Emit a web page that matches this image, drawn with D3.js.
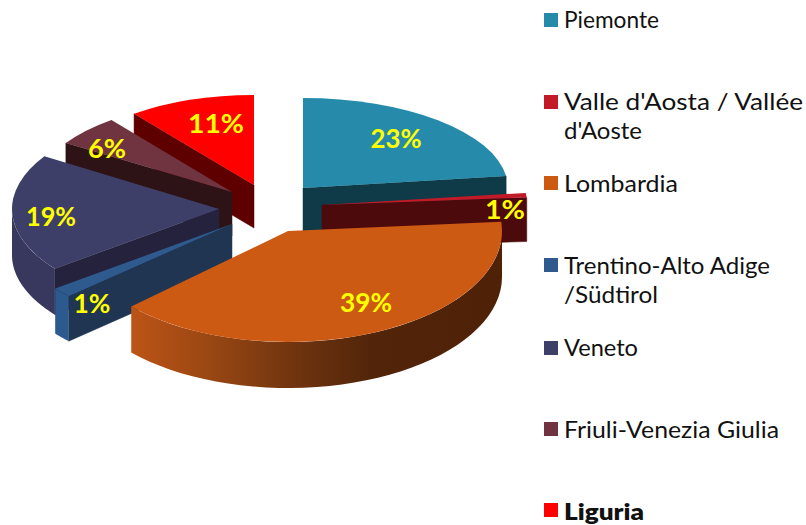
<!DOCTYPE html>
<html><head><meta charset="utf-8">
<script src="https://cdn.jsdelivr.net/npm/d3@7/dist/d3.min.js"></script>
<style>html,body{margin:0;padding:0;background:#fff}svg{display:block}</style>
</head><body><svg id="c" width="806" height="525"></svg>
<script>
// data
const categories = ["Piemonte","Valle d'Aosta / Vallée d'Aoste","Lombardia","Trentino-Alto Adige /Südtirol","Veneto","Friuli-Venezia Giulia","Liguria"];
const shares = [22.9,0.8,39.49,1.49,19.49,5.5,10.5];
const legendLines = [["Piemonte"],["Valle d'Aosta / Vallée","d'Aoste"],["Lombardia"],["Trentino-Alto Adige","/Südtirol"],["Veneto"],["Friuli-Venezia Giulia"],["Liguria"]];

// styles
const topColors  = ["#268bab","#c21b27","#cd5a13","#2f5a8d","#3e3f68","#6f3440","#ff0000"];
const wallColors = ["#0f3a47","#4d0a0c","#50230a","#1f3552","#24223c","#2e1316","#5f0000"];
const rimColors  = ["#0f3a47","#4d0a0c","url(#lomb)","#2c5a8e","#38385e","#2e1316","#5f0000"];

// layout: exploded slice apex and projected radii, in slice order
const apexX = [303,322,288,232,219,232,254];
const apexY = [188,205,231,224,209,192,185];
const radiusX = [205,205.5,214,223,207,197,196];
const radiusY = [90,90,111,106,98,91,90];
const depths = [44,44,46,45,46,44,43];
const paintOrder = [0,1,6,5,4,3,2];
const labelX = [396,505,366,92,51,107,216];
const labelY = [139,210,303,304,217,149,124];
const labelWidth = [51,40,52,37,50,38,56];
const legendMarkY = [13,95,176,258,341,422,503];
const legendTextY = [28,110,192,274,356,438,520];
const legendWidths = [[95],[239,78],[114],[206,94],[74],[215],[80]];

const svg = d3.select("#c");
const defs = svg.append("defs");
const grad = defs.append("linearGradient").attr("id","lomb").attr("gradientUnits","userSpaceOnUse")
  .attr("x1",130).attr("x2",500).attr("y1",0).attr("y2",0);
[[0,"#bd5416"],[0.2,"#9c4813"],[0.45,"#6f340f"],[0.65,"#52250a"],[1,"#4f2208"]]
  .forEach(([o,c])=>grad.append("stop").attr("offset",o).attr("stop-color",c));

const slices = d3.pie().sort(null).value(d=>d)(shares);
const arc = d3.arc().innerRadius(0);
const line = d3.line();
const pt = (i,a,dz=0)=>[apexX[i]+radiusX[i]*Math.sin(a), apexY[i]-radiusY[i]*Math.cos(a)+dz];

const gPie = svg.append("g");
paintOrder.forEach(i=>{
  const s = slices[i], g = gPie.append("g"), depth = depths[i];
  // radial walls that face the viewer
  [s.startAngle,s.endAngle].forEach((a,k)=>{
    const sin = Math.sin(a);
    if ((k===0 && sin<-1e-6) || (k===1 && sin>1e-6)) {
      const p = pt(i,a), q = pt(i,a,depth);
      g.append("path").attr("fill",wallColors[i]).attr("stroke",wallColors[i]).attr("stroke-width",0.5)
        .attr("d",line([[apexX[i],apexY[i]],p,q,[apexX[i],apexY[i]+depth]])+"Z");
    }
  });
  // outer rim, front half of the ellipse only
  const a0 = Math.max(s.startAngle,Math.PI/2), a1 = Math.min(s.endAngle,Math.PI*1.5);
  if (a1>a0) {
    const as = d3.range(0,41).map(k=>a0+(a1-a0)*k/40);
    const pts = as.map(a=>pt(i,a)).concat(as.slice().reverse().map(a=>pt(i,a,depth)));
    g.append("path").attr("fill",rimColors[i]).attr("d",line(pts)+"Z");
  }
  // top face
  g.append("path")
    .attr("transform",`translate(${apexX[i]},${apexY[i]}) scale(1,${radiusY[i]/radiusX[i]})`)
    .attr("fill",topColors[i])
    .attr("d",arc.outerRadius(radiusX[i])({startAngle:s.startAngle,endAngle:s.endAngle}));
});

svg.append("g").selectAll("text").data(shares).join("text")
  .attr("x",(d,i)=>labelX[i]-labelWidth[i]/2).attr("y",(d,i)=>labelY[i]).attr("dy","0.36em")
  .attr("fill","#ffff00")
  .attr("font-family","Lato, sans-serif").attr("font-weight",700).attr("font-size",26)
  .attr("textLength",(d,i)=>labelWidth[i]).attr("lengthAdjust","spacingAndGlyphs")
  .text(d=>Math.round(d)+"%");

const leg = svg.append("g").selectAll("g").data(categories).join("g");
leg.append("rect").attr("x",544).attr("y",(d,i)=>legendMarkY[i]).attr("width",14).attr("height",14)
  .attr("fill",(d,i)=>topColors[i]);
leg.each(function(d,i){
  const t = d3.select(this);
  legendLines[i].forEach((l,k)=>t.append("text").attr("x",564).attr("y",legendTextY[i]+k*29)
    .attr("font-family","Lato, sans-serif").attr("font-size",22.5).attr("fill","#111")
    .attr("font-weight",i===6?800:400)
    .attr("textLength",legendWidths[i][k]).attr("lengthAdjust","spacingAndGlyphs").text(l));
});
</script></body></html>
